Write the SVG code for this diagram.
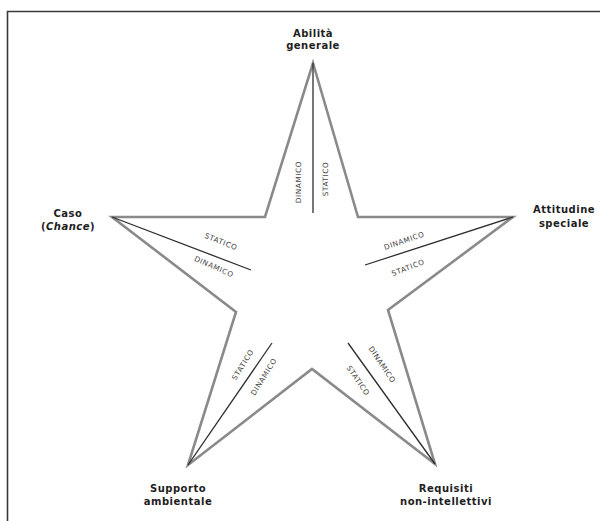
<svg xmlns="http://www.w3.org/2000/svg" width="600" height="521" viewBox="0 0 600 521">
<style>
.frame{fill:none;stroke:#3a3a3a;stroke-width:1.6}
.star{fill:#fff;stroke:#8a8a8a;stroke-width:2.6;stroke-linejoin:miter}
.axis{stroke:#2e2e2e;stroke-width:1.3}
.sm{font-family:"DejaVu Sans",Verdana,sans-serif;font-size:7.3px;letter-spacing:0.6px;fill:#444;text-anchor:middle}
.lb{font-family:"DejaVu Sans",Verdana,sans-serif;font-size:10px;font-weight:bold;letter-spacing:0.5px;fill:#1e1e1e;text-anchor:middle}
</style>
<rect width="600" height="521" fill="#fff"/>
<path class="frame" d="M7.5,521 V11.5 H600"/>
<g id="star">
<polygon class="star" points="313,63 358,217 513,217 388,310 435,464 312,369 188,465 236,312 112,217 265,217"/>
</g>
<g id="connectors">
<line class="axis" x1="313" y1="63" x2="313" y2="213"/>
<line class="axis" x1="112" y1="217" x2="251" y2="270"/>
<line class="axis" x1="513" y1="217" x2="365" y2="265"/>
<line class="axis" x1="188" y1="465" x2="272" y2="343"/>
<line class="axis" x1="435" y1="464" x2="348" y2="343"/>
</g>
<g id="axis-labels">
<text class="sm" transform="translate(301,182) rotate(-90)">DINAMICO</text>
<text class="sm" transform="translate(328,179) rotate(-90)">STATICO</text>
<text class="sm" transform="translate(220,244) rotate(22)">STATICO</text>
<text class="sm" transform="translate(213,269) rotate(24)">DINAMICO</text>
<text class="sm" transform="translate(405,243) rotate(-19)">DINAMICO</text>
<text class="sm" transform="translate(409,270) rotate(-21)">STATICO</text>
<text class="sm" transform="translate(245,366) rotate(-58)">STATICO</text>
<text class="sm" transform="translate(266,378) rotate(-58)">DINAMICO</text>
<text class="sm" transform="translate(380,366) rotate(56)">DINAMICO</text>
<text class="sm" transform="translate(356,382) rotate(56)">STATICO</text>
</g>
<g id="node-abilita">
<text class="lb" x="313" y="37">Abilità</text>
<text class="lb" x="313" y="49">generale</text>
</g>
<g id="node-caso">
<text class="lb" x="68" y="217">Caso</text>
<text class="lb" x="68" y="230">(<tspan font-style="italic">Chance</tspan>)</text>
</g>
<g id="node-attitudine">
<text class="lb" x="564" y="213">Attitudine</text>
<text class="lb" x="564" y="227">speciale</text>
</g>
<g id="node-supporto">
<text class="lb" x="178" y="492">Supporto</text>
<text class="lb" x="178" y="505">ambientale</text>
</g>
<g id="node-requisiti">
<text class="lb" x="446" y="492">Requisiti</text>
<text class="lb" x="446" y="505">non-intellettivi</text>
</g>
</svg>
